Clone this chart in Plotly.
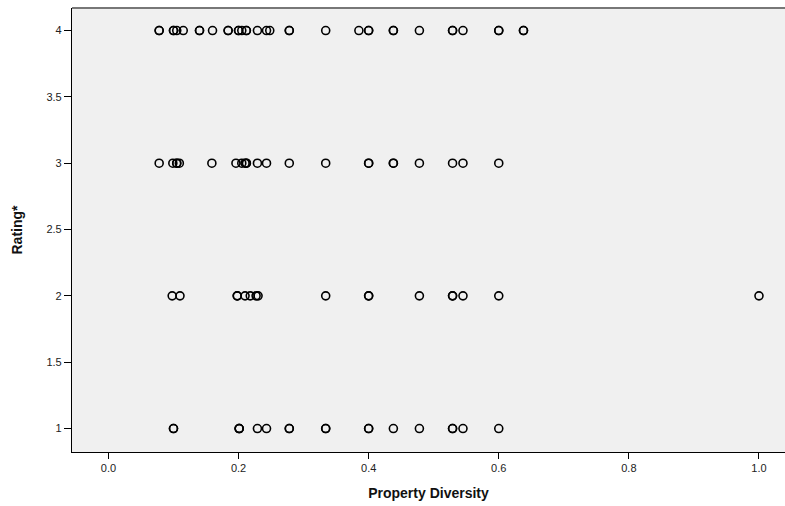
import plotly.graph_objects as go

# Property diversity values observed at each rating level (repeats are duplicate cases)
diversity_r4 = [0.078, 0.078, 0.1, 0.1, 0.105, 0.115, 0.14, 0.14, 0.16, 0.184, 0.184,
                0.2, 0.2, 0.205, 0.212, 0.212, 0.229, 0.243, 0.248, 0.278, 0.278,
                0.334, 0.385, 0.4, 0.4, 0.438, 0.438, 0.478, 0.529, 0.529, 0.545,
                0.6, 0.6, 0.638, 0.638]
diversity_r3 = [0.078, 0.099, 0.105, 0.105, 0.109, 0.159, 0.196, 0.205, 0.21, 0.212,
                0.212, 0.229, 0.243, 0.278, 0.334, 0.4, 0.4, 0.438, 0.438, 0.478,
                0.529, 0.545, 0.6]
diversity_r2 = [0.098, 0.11, 0.198, 0.198, 0.21, 0.218, 0.227, 0.23, 0.334, 0.4, 0.4,
                0.478, 0.529, 0.529, 0.545, 0.6, 1.0]
diversity_r1 = [0.1, 0.1, 0.201, 0.201, 0.201, 0.229, 0.243, 0.278, 0.278, 0.334,
                0.334, 0.4, 0.4, 0.438, 0.478, 0.529, 0.529, 0.545, 0.6]

ratings = [4, 3, 2, 1]
groups = [diversity_r4, diversity_r3, diversity_r2, diversity_r1]

xs, ys = [], []
for r, vals in zip(ratings, groups):
    xs.extend(vals)
    ys.extend([r] * len(vals))

y_ticks = [1, 1.5, 2, 2.5, 3, 3.5, 4]
y_tick_text = ["1", "1.5", "2", "2.5", "3", "3.5", "4"]
x_ticks = [0.0, 0.2, 0.4, 0.6, 0.8, 1.0]

fig = go.Figure(go.Scatter(
    x=xs, y=ys, mode="markers",
    marker=dict(symbol="circle-open", size=8, color="black",
                line=dict(color="black", width=1.6)),
    hoverinfo="x+y",
))

font_family = "Liberation Sans, Arial, sans-serif"

fig.update_layout(
    width=785, height=506,
    margin=dict(l=72, r=0, t=8, b=54),
    paper_bgcolor="white",
    plot_bgcolor="#f0f0f0",
    showlegend=False,
    font=dict(family=font_family, size=11, color="#222"),
    xaxis=dict(
        range=[-0.056, 1.04],
        tickvals=x_ticks, tickformat=".1f",
        ticks="outside", ticklen=6, tickwidth=1, tickcolor="black",
        showgrid=False, zeroline=False,
        showline=True, linecolor="black", linewidth=1.2,
        title=dict(text="<b>Property Diversity</b>",
                   font=dict(size=14, color="#111", family=font_family),
                   standoff=14),
        tickfont=dict(size=11),
    ),
    yaxis=dict(
        range=[0.823, 4.17],
        tickvals=y_ticks, ticktext=y_tick_text,
        ticks="outside", ticklen=7, tickwidth=1, tickcolor="black",
        showgrid=False, zeroline=False,
        showline=True, linecolor="black", linewidth=1.2,
        title=dict(text="<b>Rating*</b>",
                   font=dict(size=14, color="#111", family=font_family),
                   standoff=20),
        tickfont=dict(size=11),
    ),
    shapes=[dict(type="line", xref="paper", yref="paper",
                 x0=0, x1=1, y0=1, y1=1,
                 line=dict(color="#777", width=2))],
)

fig.write_html("out.html")
